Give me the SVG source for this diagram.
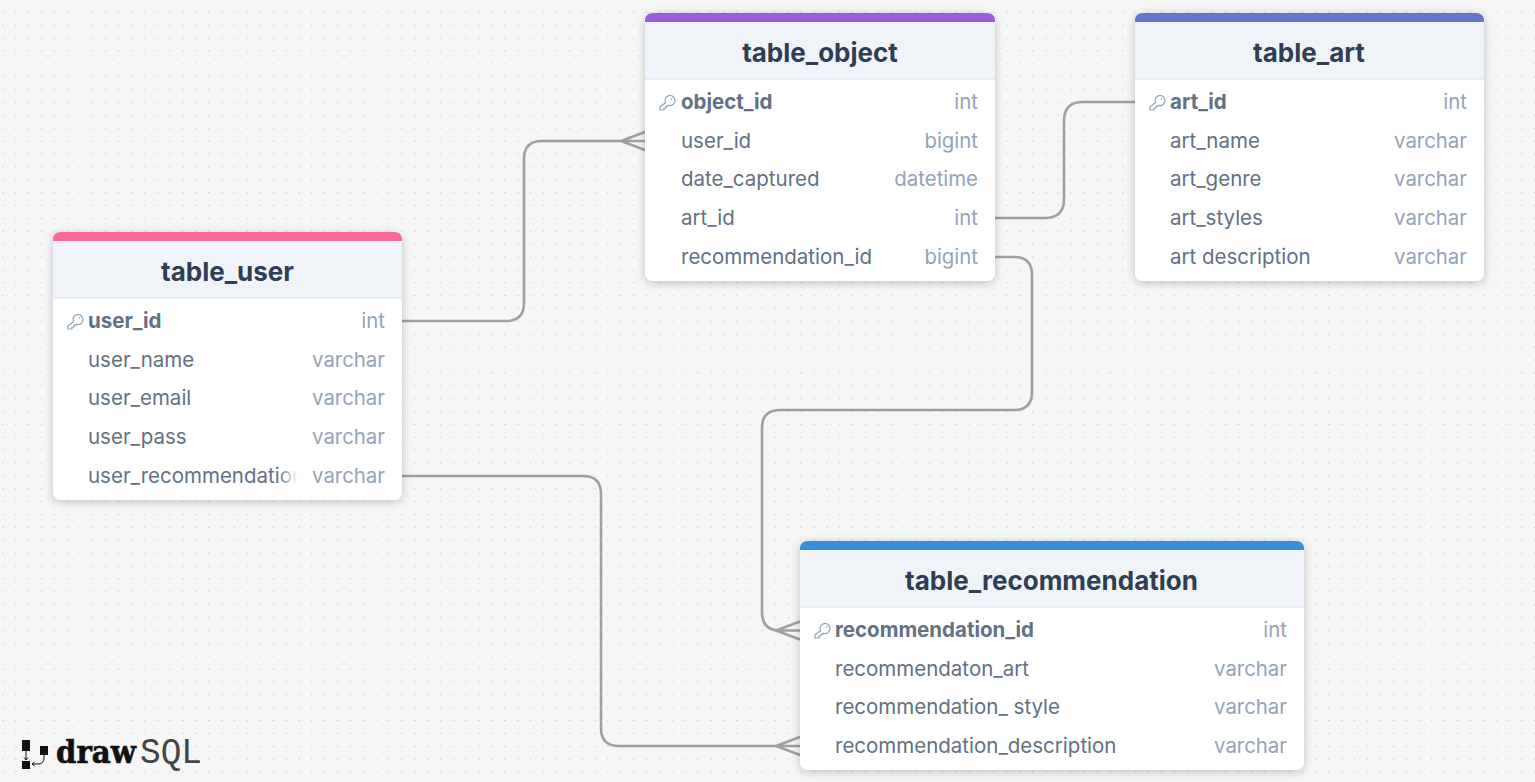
<svg xmlns="http://www.w3.org/2000/svg" width="1535" height="782" viewBox="0 0 1535 782">
<style>
text{font-family:Inter,"Noto Sans","Liberation Sans",sans-serif}
.card{fill:#fff;filter:url(#sh)}
.hd{fill:#f0f4f9}
.ln{stroke:#e2e8f0;stroke-width:1.5}
.t{font-size:26px;font-weight:700;fill:#2f3e54;text-anchor:middle}
.pk{font-size:20.5px;font-weight:700;fill:#627183}
.c{font-size:20.5px;fill:#627183}
.ty{font-size:20.4px;fill:#94a3b8;text-anchor:end}
.conn{fill:none;stroke:#a0a0a0;stroke-width:2.6}
.key{fill:none;stroke:#8f9fb4;stroke-width:1.2}
</style>
<defs>
<pattern id="dots" x="0" y="0" width="12.875" height="12.875" patternUnits="userSpaceOnUse"><rect x="2.1" y="12.1" width="1.3" height="1.3" fill="#b8b8b8"/></pattern>
<filter id="sh" x="-10%" y="-10%" width="120%" height="125%"><feDropShadow dx="0" dy="2" stdDeviation="5" flood-color="#000" flood-opacity="0.22"/></filter>
<linearGradient id="fade" x1="0" x2="1" y1="0" y2="0"><stop offset="0" stop-color="#fff" stop-opacity="0"/><stop offset="1" stop-color="#fff"/></linearGradient>
<clipPath id="clipU"><rect x="60" y="460" width="238" height="35"/></clipPath>
<g id="k"><path class="key" d="M-1.500 -0.300A5 5 0 1 1 1.500 2.300L0.500 3.300H-1V5H-3V7H-7V3.700Z"/><circle cx="4.500" cy="-4" r="0.800" fill="#8f9fb4"/></g>
</defs>
<rect width="1535" height="782" fill="#f6f6f6"/>
<rect width="1535" height="782" fill="url(#dots)"/>

<g id="connectors">
<path class="conn" d="M402 321H506Q524 321 524 303V159Q524 141 542 141H645M645 132L621 141L645 150"/>
<path class="conn" d="M995 218H1045Q1064 218 1064 199V121Q1064 102 1083 102H1135"/>
<path class="conn" d="M995 257H1014Q1032 257 1032 275V392Q1032 410 1014 410H780Q762 410 762 428V612Q762 630.500 780 630.500H800M800 621.500L776 630.500L800 639.500"/>
<path class="conn" d="M402 476H583Q601 476 601 494V728Q601 746 619 746H800M800 737L776 746L800 755"/>
</g>

<g id="table_user">
<rect class="card" x="53" y="232" width="349" height="268" rx="8"/>
<path fill="#f8699a" d="M53 241V240Q53 232 61 232H394Q402 232 402 240V241Z"/>
<rect class="hd" x="53" y="241" width="349" height="57"/>
<line class="ln" x1="53" x2="402" y1="298" y2="298"/>
<text class="t" x="227.500" y="281">table_user</text>
<use href="#k" x="75" y="322"/>
<text class="pk" x="88" y="328">user_id</text><text class="ty" x="385" y="328">int</text>
<text class="c" x="88" y="366.500">user_name</text><text class="ty" x="385" y="366.500">varchar</text>
<text class="c" x="88" y="405">user_email</text><text class="ty" x="385" y="405">varchar</text>
<text class="c" x="88" y="444">user_pass</text><text class="ty" x="385" y="444">varchar</text>
<text class="c" x="88" y="482.500" clip-path="url(#clipU)">user_recommendation</text><text class="ty" x="385" y="482.500">varchar</text>
<rect x="278" y="462" width="20" height="30" fill="url(#fade)"/>
</g>

<g id="table_object">
<rect class="card" x="645" y="13" width="350" height="268" rx="8"/>
<path fill="#9b5de0" d="M645 22V21Q645 13 653 13H987Q995 13 995 21V22Z"/>
<rect class="hd" x="645" y="22" width="350" height="57"/>
<line class="ln" x1="645" x2="995" y1="79" y2="79"/>
<text class="t" x="820" y="62">table_object</text>
<use href="#k" x="667" y="103"/>
<text class="pk" x="681" y="109">object_id</text><text class="ty" x="978" y="109">int</text>
<text class="c" x="681" y="147.500">user_id</text><text class="ty" x="978" y="147.500">bigint</text>
<text class="c" x="681" y="186">date_captured</text><text class="ty" x="978" y="186">datetime</text>
<text class="c" x="681" y="225">art_id</text><text class="ty" x="978" y="225">int</text>
<text class="c" x="681" y="263.500">recommendation_id</text><text class="ty" x="978" y="263.500">bigint</text>
</g>

<g id="table_art">
<rect class="card" x="1135" y="13" width="349" height="268" rx="8"/>
<path fill="#6574cd" d="M1135 22V21Q1135 13 1143 13H1476Q1484 13 1484 21V22Z"/>
<rect class="hd" x="1135" y="22" width="349" height="57"/>
<line class="ln" x1="1135" x2="1484" y1="79" y2="79"/>
<text class="t" x="1309" y="62">table_art</text>
<use href="#k" x="1157" y="103"/>
<text class="pk" x="1170" y="109">art_id</text><text class="ty" x="1467" y="109">int</text>
<text class="c" x="1170" y="147.500">art_name</text><text class="ty" x="1467" y="147.500">varchar</text>
<text class="c" x="1170" y="186">art_genre</text><text class="ty" x="1467" y="186">varchar</text>
<text class="c" x="1170" y="225">art_styles</text><text class="ty" x="1467" y="225">varchar</text>
<text class="c" x="1170" y="263.500">art description</text><text class="ty" x="1467" y="263.500">varchar</text>
</g>

<g id="table_recommendation">
<rect class="card" x="800" y="541" width="504" height="229" rx="8"/>
<path fill="#3490dc" d="M800 550V549Q800 541 808 541H1296Q1304 541 1304 549V550Z"/>
<rect class="hd" x="800" y="550" width="504" height="57"/>
<line class="ln" x1="800" x2="1304" y1="607" y2="607"/>
<text class="t" x="1051.500" y="590">table_recommendation</text>
<use href="#k" x="822" y="631"/>
<text class="pk" x="835" y="637">recommendation_id</text><text class="ty" x="1287" y="637">int</text>
<text class="c" x="835" y="675.500">recommendaton_art</text><text class="ty" x="1287" y="675.500">varchar</text>
<text class="c" x="835" y="714">recommendation_ style</text><text class="ty" x="1287" y="714">varchar</text>
<text class="c" x="835" y="752.500">recommendation_description</text><text class="ty" x="1287" y="752.500">varchar</text>
</g>

<g id="logo">
<rect x="22" y="740" width="8" height="11" fill="#111"/>
<rect x="22" y="761" width="8" height="8" fill="#111"/>
<rect x="40" y="746" width="8" height="9" fill="#111"/>
<path fill="none" stroke="#111" stroke-width="1" d="M26 751V760M24 757.500L26 760L28 757.500M44 755V758Q44 764 38 764H32M34.500 762L32 764L34.500 766"/>
<text x="56" y="763" style="font-family:'DejaVu Serif',serif;font-weight:700" font-size="31" fill="#111" stroke="#111" stroke-width="0.6" textLength="80" lengthAdjust="spacingAndGlyphs">draw</text>
<text x="140" y="763" style="font-family:'Liberation Mono',monospace" font-size="37" fill="#444" textLength="62" lengthAdjust="spacingAndGlyphs">SQL</text>
</g>
</svg>
